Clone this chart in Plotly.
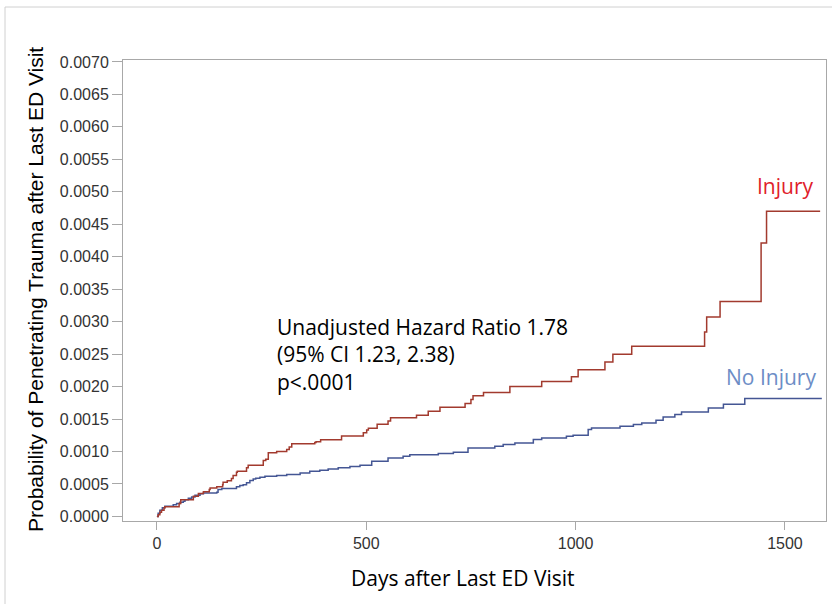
import plotly.graph_objects as go

# ---- data ----
injury_days = [0, 3, 7, 11, 17, 19, 53, 57, 87, 99, 111, 125, 127, 143, 157, 158, 168, 178, 182, 190,
               192, 214, 218, 254, 260, 266, 286, 310, 316, 322, 377, 380, 391, 441, 493, 501, 505, 526,
               552, 558, 620, 648, 676, 736, 750, 755, 780, 843, 919, 990, 1006, 1070, 1089, 1134, 1308,
               1313, 1345, 1443, 1456, 1584]
injury_prob = [0, 0.000026, 0.000066, 0.000097, 0.000133, 0.000149, 0.0002, 0.000256, 0.000312, 0.000354,
               0.00038, 0.000415, 0.00044, 0.000456, 0.00049, 0.000528, 0.00055, 0.000585, 0.00063, 0.00068,
               0.000697, 0.00075, 0.00079, 0.00086, 0.00088, 0.00098, 0.001, 0.00103, 0.00107, 0.00112,
               0.00114, 0.00115, 0.00118, 0.00124, 0.00129, 0.00133, 0.00136, 0.00142, 0.00147, 0.00152,
               0.00156, 0.00162, 0.00168, 0.00174, 0.0018, 0.00186, 0.00191, 0.002, 0.00208, 0.00215,
               0.00226, 0.00238, 0.0025, 0.00262, 0.00284, 0.00307, 0.00331, 0.00421, 0.0047, 0.0047]

noinj_days = [0, 3, 7, 13, 19, 39, 47, 55, 63, 67, 75, 83, 91, 103, 111, 143, 146, 155, 190, 198, 206,
              214, 222, 230, 236, 246, 258, 286, 310, 342, 365, 389, 409, 433, 461, 485, 513, 552, 588,
              604, 672, 708, 743, 807, 827, 855, 899, 919, 978, 994, 1030, 1038, 1106, 1138, 1158, 1192,
              1209, 1237, 1253, 1317, 1353, 1404, 1588]
noinj_prob = [0, 0.00005, 0.000097, 0.000133, 0.000159, 0.00018, 0.0002, 0.00022, 0.000236, 0.000256,
              0.000282, 0.0003, 0.000328, 0.00035, 0.00036, 0.000374, 0.000415, 0.00043, 0.000456, 0.000477,
              0.00049, 0.000518, 0.000554, 0.000575, 0.00059, 0.000605, 0.00062, 0.00063, 0.000646, 0.00067,
              0.000697, 0.00071, 0.00073, 0.00075, 0.00077, 0.00079, 0.00085, 0.0009, 0.000928, 0.000949,
              0.000969, 0.00099, 0.001056, 0.001082, 0.001108, 0.001133, 0.001185, 0.00121, 0.001236,
              0.001251, 0.001338, 0.001364, 0.00139, 0.001415, 0.00144, 0.00148, 0.00153, 0.00157,
              0.00161, 0.001672, 0.00173, 0.001815, 0.001815]

y_ticks = [0, 0.0005, 0.001, 0.0015, 0.002, 0.0025, 0.003, 0.0035, 0.004, 0.0045, 0.005, 0.0055,
           0.006, 0.0065, 0.007]
x_ticks = [0, 500, 1000, 1500]

annotation_lines = ["Unadjusted Hazard Ratio 1.78", "(95% CI 1.23, 2.38)", "p<.0001"]

RED = "#A23A2E"
BLUE = "#445694"

W, H = 832, 604
L, R, T, B = 123, 6, 60, 83
PW, PH = W - L - R, H - T - B


def px(x):
    return (x - L) / PW


def py(y):
    return (H - B - y) / PH


fig = go.Figure()
fig.add_trace(go.Scatter(x=noinj_days, y=noinj_prob, mode="lines", line_shape="hv",
                         line=dict(color=BLUE, width=1.5), name="No Injury", hoverinfo="x+y"))
fig.add_trace(go.Scatter(x=injury_days, y=injury_prob, mode="lines", line_shape="hv",
                         line=dict(color=RED, width=1.5), name="Injury", hoverinfo="x+y"))

axis_common = dict(showgrid=False, zeroline=False, showline=True, linecolor="#A8A8A8", linewidth=1,
                   mirror=True, ticks="outside", tickcolor="#A8A8A8",
                   tickfont=dict(family="Liberation Sans, Arial", size=16, color="#333333"))

fig.update_xaxes(range=[-81, 1598], tickvals=x_ticks, ticktext=[str(v) for v in x_ticks], ticklen=8,
                 **axis_common)
fig.update_yaxes(range=[-0.00007, 0.00703], tickvals=y_ticks, tickformat=".4f", ticklen=10, **axis_common)

TXT = "Open Sans"
anns = [
    dict(x=px(463), y=py(578), text="Days after Last ED Visit",
         font=dict(family=TXT, size=21, color="#000000"), xanchor="center", yanchor="middle"),
    dict(x=px(35), y=py(290), text="Probability of Penetrating Trauma after Last ED Visit", textangle=-90,
         font=dict(family="Liberation Sans, Arial", size=21, color="#000000"), xanchor="center", yanchor="middle"),
    dict(x=px(816), y=py(186), text="Injury", font=dict(family=TXT, size=21, color="#E0202A"),
         xanchor="right", yanchor="middle"),
    dict(x=px(818), y=py(377), text="No Injury", font=dict(family=TXT, size=21, color="#6D8DC6"),
         xanchor="right", yanchor="middle"),
    dict(x=px(275), y=py(354), text="<br>".join(annotation_lines), align="left",
         font=dict(family=TXT, size=21, color="#000000"), xanchor="left", yanchor="middle"),
]
for a in anns:
    a.update(xref="paper", yref="paper", showarrow=False)

fig.update_layout(
    width=W, height=H, margin=dict(l=L, r=R, t=T, b=B),
    paper_bgcolor="white", plot_bgcolor="white", showlegend=False,
    annotations=anns,
    shapes=[dict(type="rect", xref="paper", yref="paper", x0=px(5), x1=px(840), y0=py(7), y1=py(620),
                 line=dict(color="#D0D0D0", width=1), layer="below")],
)

fig.write_html("out.html", config={"displayModeBar": False},
               post_script="document.body.style.margin='0';document.body.style.overflow='hidden';")
